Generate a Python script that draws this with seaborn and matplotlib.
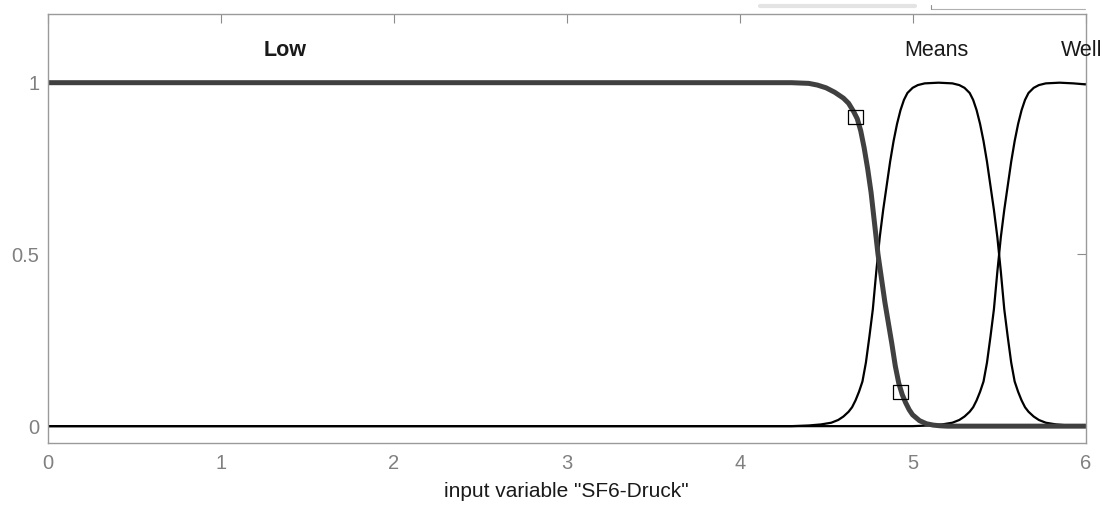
import matplotlib
matplotlib.use("Agg")
import matplotlib.pyplot as plt
from matplotlib.lines import Line2D
import pandas as pd
import seaborn as sns

# membership curves
low_x = [0, 4.3, 4.4, 4.45, 4.5, 4.55, 4.6, 4.63, 4.66, 4.68, 4.7, 4.72, 4.74,
         4.76, 4.78, 4.8, 4.82, 4.84, 4.86, 4.88, 4.9, 4.92, 4.94, 4.96, 4.98,
         5.0, 5.04, 5.08, 5.12, 5.16, 5.2, 6]
low_y = [1, 1, 0.998, 0.993, 0.985, 0.972, 0.955, 0.94, 0.915, 0.895, 0.86, 0.81,
         0.75, 0.68, 0.59, 0.5, 0.43, 0.36, 0.3, 0.24, 0.175, 0.125, 0.092, 0.068,
         0.048, 0.033, 0.016, 0.007, 0.003, 0.001, 0, 0]

means_x = [0, 4.3, 4.4, 4.47, 4.53, 4.57, 4.6, 4.63, 4.65, 4.67, 4.69, 4.71, 4.73,
           4.75, 4.77, 4.79, 4.8, 4.81, 4.83, 4.85, 4.87, 4.89, 4.91, 4.93, 4.95,
           4.97, 5.0, 5.03, 5.07, 5.15, 5.23, 5.27, 5.3, 5.33, 5.35, 5.37, 5.39,
           5.41, 5.43, 5.45, 5.47, 5.49, 5.5, 5.51, 5.53, 5.55, 5.57, 5.59, 5.61,
           5.63, 5.65, 5.67, 5.7, 5.73, 5.77, 5.83, 5.9, 6]
means_y = [0, 0, 0.002, 0.005, 0.01, 0.018, 0.028, 0.042, 0.055, 0.075, 0.1, 0.13,
           0.185, 0.26, 0.34, 0.45, 0.5, 0.55, 0.63, 0.7, 0.77, 0.83, 0.88, 0.92,
           0.95, 0.97, 0.985, 0.993, 0.998, 1, 0.998, 0.993, 0.985, 0.97, 0.95,
           0.92, 0.88, 0.83, 0.77, 0.7, 0.63, 0.55, 0.5, 0.45, 0.34, 0.26, 0.185,
           0.13, 0.1, 0.075, 0.055, 0.042, 0.028, 0.018, 0.01, 0.005, 0.002, 0]

well_x = [0, 5.0, 5.1, 5.17, 5.23, 5.27, 5.3, 5.33, 5.35, 5.37, 5.39, 5.41, 5.43,
          5.45, 5.47, 5.49, 5.5, 5.51, 5.53, 5.55, 5.57, 5.59, 5.61, 5.63, 5.65,
          5.67, 5.7, 5.73, 5.77, 5.85, 5.93, 6]
well_y = [0, 0, 0.002, 0.005, 0.01, 0.018, 0.028, 0.042, 0.055, 0.075, 0.1, 0.13,
          0.185, 0.26, 0.34, 0.45, 0.5, 0.55, 0.63, 0.7, 0.77, 0.83, 0.88, 0.92,
          0.95, 0.97, 0.985, 0.993, 0.998, 1, 0.998, 0.995]

# selected-MF handles on Low
handle_x = [4.67, 4.93]
handle_y = [0.9, 0.1]

mf_names = ["Low", "Means", "Well"]
name_x = [1.37, 5.14, 5.98]
name_y = 1.095

xticks = [0, 1, 2, 3, 4, 5, 6]
yticks = [0, 0.5, 1]
ytick_labels = ["0", "0.5", "1"]

sns.set_style("white")
plt.rcParams["font.family"] = ["Liberation Sans", "DejaVu Sans"]

fig = plt.figure(figsize=(11.1, 5.07), dpi=100)
ax = fig.add_axes([0.043, 0.1256, 0.935, 0.8468])

means_df = pd.DataFrame({"x": means_x, "y": means_y})
well_df = pd.DataFrame({"x": well_x, "y": well_y})
low_df = pd.DataFrame({"x": low_x, "y": low_y})

sns.lineplot(data=means_df, x="x", y="y", ax=ax, color="black", linewidth=1.6,
             estimator=None, sort=False)
sns.lineplot(data=well_df, x="x", y="y", ax=ax, color="black", linewidth=1.6,
             estimator=None, sort=False)
sns.lineplot(data=low_df, x="x", y="y", ax=ax, color="#404040", linewidth=3.6,
             estimator=None, sort=False)
sns.scatterplot(x=handle_x, y=handle_y, ax=ax, marker="s", s=110,
                facecolors="none", edgecolor="black", linewidth=0.9, zorder=5)

for i, name in enumerate(mf_names):
    ax.text(name_x[i], name_y, name, ha="center", va="center", fontsize=15.5,
            color="#1a1a1a", fontweight="bold" if name == "Low" else "normal")

ax.set_xlim(0, 6)
ax.set_ylim(-0.05, 1.2)
ax.set_xticks(xticks)
ax.set_yticks(yticks)
ax.set_yticklabels(ytick_labels)
ax.set_xlabel('input variable "SF6-Druck"', fontsize=15, color="#1a1a1a", labelpad=6)
ax.set_ylabel("")
ax.tick_params(direction="in", length=6.5, width=0.8, color="#8c8c8c",
               labelcolor="#808080", labelsize=14.5, top=True, right=True)
ax.tick_params(axis="x", pad=8)
ax.tick_params(axis="y", pad=6)
for sp in ax.spines.values():
    sp.set_color("#9a9a9a")
    sp.set_linewidth(1.0)

# bits of the GUI showing above the axes
fig.add_artist(Line2D([760 / 1110, 915 / 1110], [1 - 6 / 507, 1 - 6 / 507],
                      color="#e3e3e3", linewidth=3))
fig.add_artist(Line2D([931 / 1110, 1085 / 1110], [1 - 9 / 507, 1 - 9 / 507],
                      color="#b0b0b0", linewidth=0.8))
fig.add_artist(Line2D([931 / 1110, 931 / 1110], [1 - 5 / 507, 1 - 9 / 507],
                      color="#909090", linewidth=0.8))

fig.savefig("out.png", dpi=100)
